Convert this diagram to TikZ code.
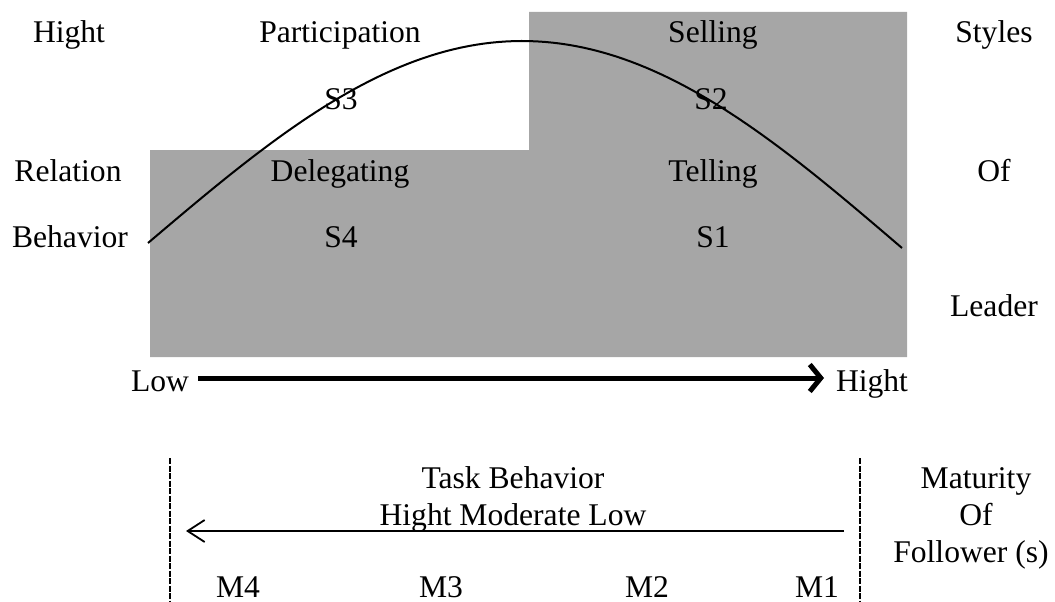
\documentclass[tikz,border=0pt]{standalone}
\usepackage{fontspec}
\setmainfont{Liberation Serif}
\usetikzlibrary{arrows.meta}
\definecolor{greyfill}{HTML}{A6A6A6}
\tikzset{
  lbl/.style={font=\fontsize{31.6}{37}\selectfont, inner sep=0pt, anchor=base},
  curveline/.style={line width=2pt, black},
  bigarrow/.style={line width=5pt, -{Straight Barb[length=11pt,width=27pt]}},
  smallarrow/.style={line width=1.8pt, -{Straight Barb[length=17pt,width=22pt]}},
  divider/.style={line width=2pt, dash pattern=on 6pt off 1.5pt}
}
\begin{document}
\begin{tikzpicture}[x=1pt,y=-1pt]
\useasboundingbox (0,0) rectangle (1055,602);
% grey region
\fill[greyfill] (150,150) -- (529,150) -- (529,12) -- (907,12) -- (907,357) -- (150,357) -- cycle;
% curve
\draw[curveline] plot[domain=0:90, samples=50, variable=\t] ({148+4.15556*\t},{243-202*sin(\t)})
  -- plot[domain=90:180, samples=50, variable=\t] ({522+4.22222*(\t-90)},{248-207*sin(\t)});
% labels top
\node[lbl] (hi1) at (69,43) {Hight};
\node[lbl] (part) at (340,43) {Participation};
\node[lbl] (sell) at (713,43) {Selling};
\node[lbl] (sty) at (994,43) {Styles};
\node[lbl] (s3) at (341,110) {S3};
\node[lbl] (s2) at (711,110) {S2};
\node[lbl] (rel) at (68,181) {Relation};
\node[lbl] (deleg) at (340,181) {Delegating};
\node[lbl] (tell) at (713,181) {Telling};
\node[lbl] (of1) at (994,181) {Of};
\node[lbl] (beh) at (70,247) {Behavior};
\node[lbl] (s4) at (341,247) {S4};
\node[lbl] (s1) at (713,247) {S1};
\node[lbl] (lead) at (994,316) {Leader};
% arrow row
\node[lbl] (low) at (160,391) {Low};
\node[lbl] (hi2) at (872,391) {Hight};
\coordinate (a1) at (198,378);
\coordinate (a2) at (824,378);
\draw[bigarrow] (a1) -- (a2);
% bottom section
\coordinate (d1t) at (170,458);
\coordinate (d1b) at (170,602);
\coordinate (d2t) at (860,458);
\coordinate (d2b) at (860,602);
\draw[divider] (d1t) -- (d1b);
\draw[divider] (d2t) -- (d2b);
\node[lbl] (task) at (513,488) {Task Behavior};
\node[lbl] (hml) at (513,525) {Hight Moderate Low};
\coordinate (b1) at (844,531);
\coordinate (b2) at (186,531);
\draw[smallarrow] (b1) -- (b2);
\node[lbl] (m4) at (238,597) {M4};
\node[lbl] (m3) at (441,597) {M3};
\node[lbl] (m2) at (647,597) {M2};
\node[lbl] (m1) at (817,597) {M1};
\node[lbl] (mat) at (976,488) {Maturity};
\node[lbl] (of2) at (976,525) {Of};
\node[lbl] (fol) at (971,562) {Follower (s)};
\end{tikzpicture}
\end{document}
